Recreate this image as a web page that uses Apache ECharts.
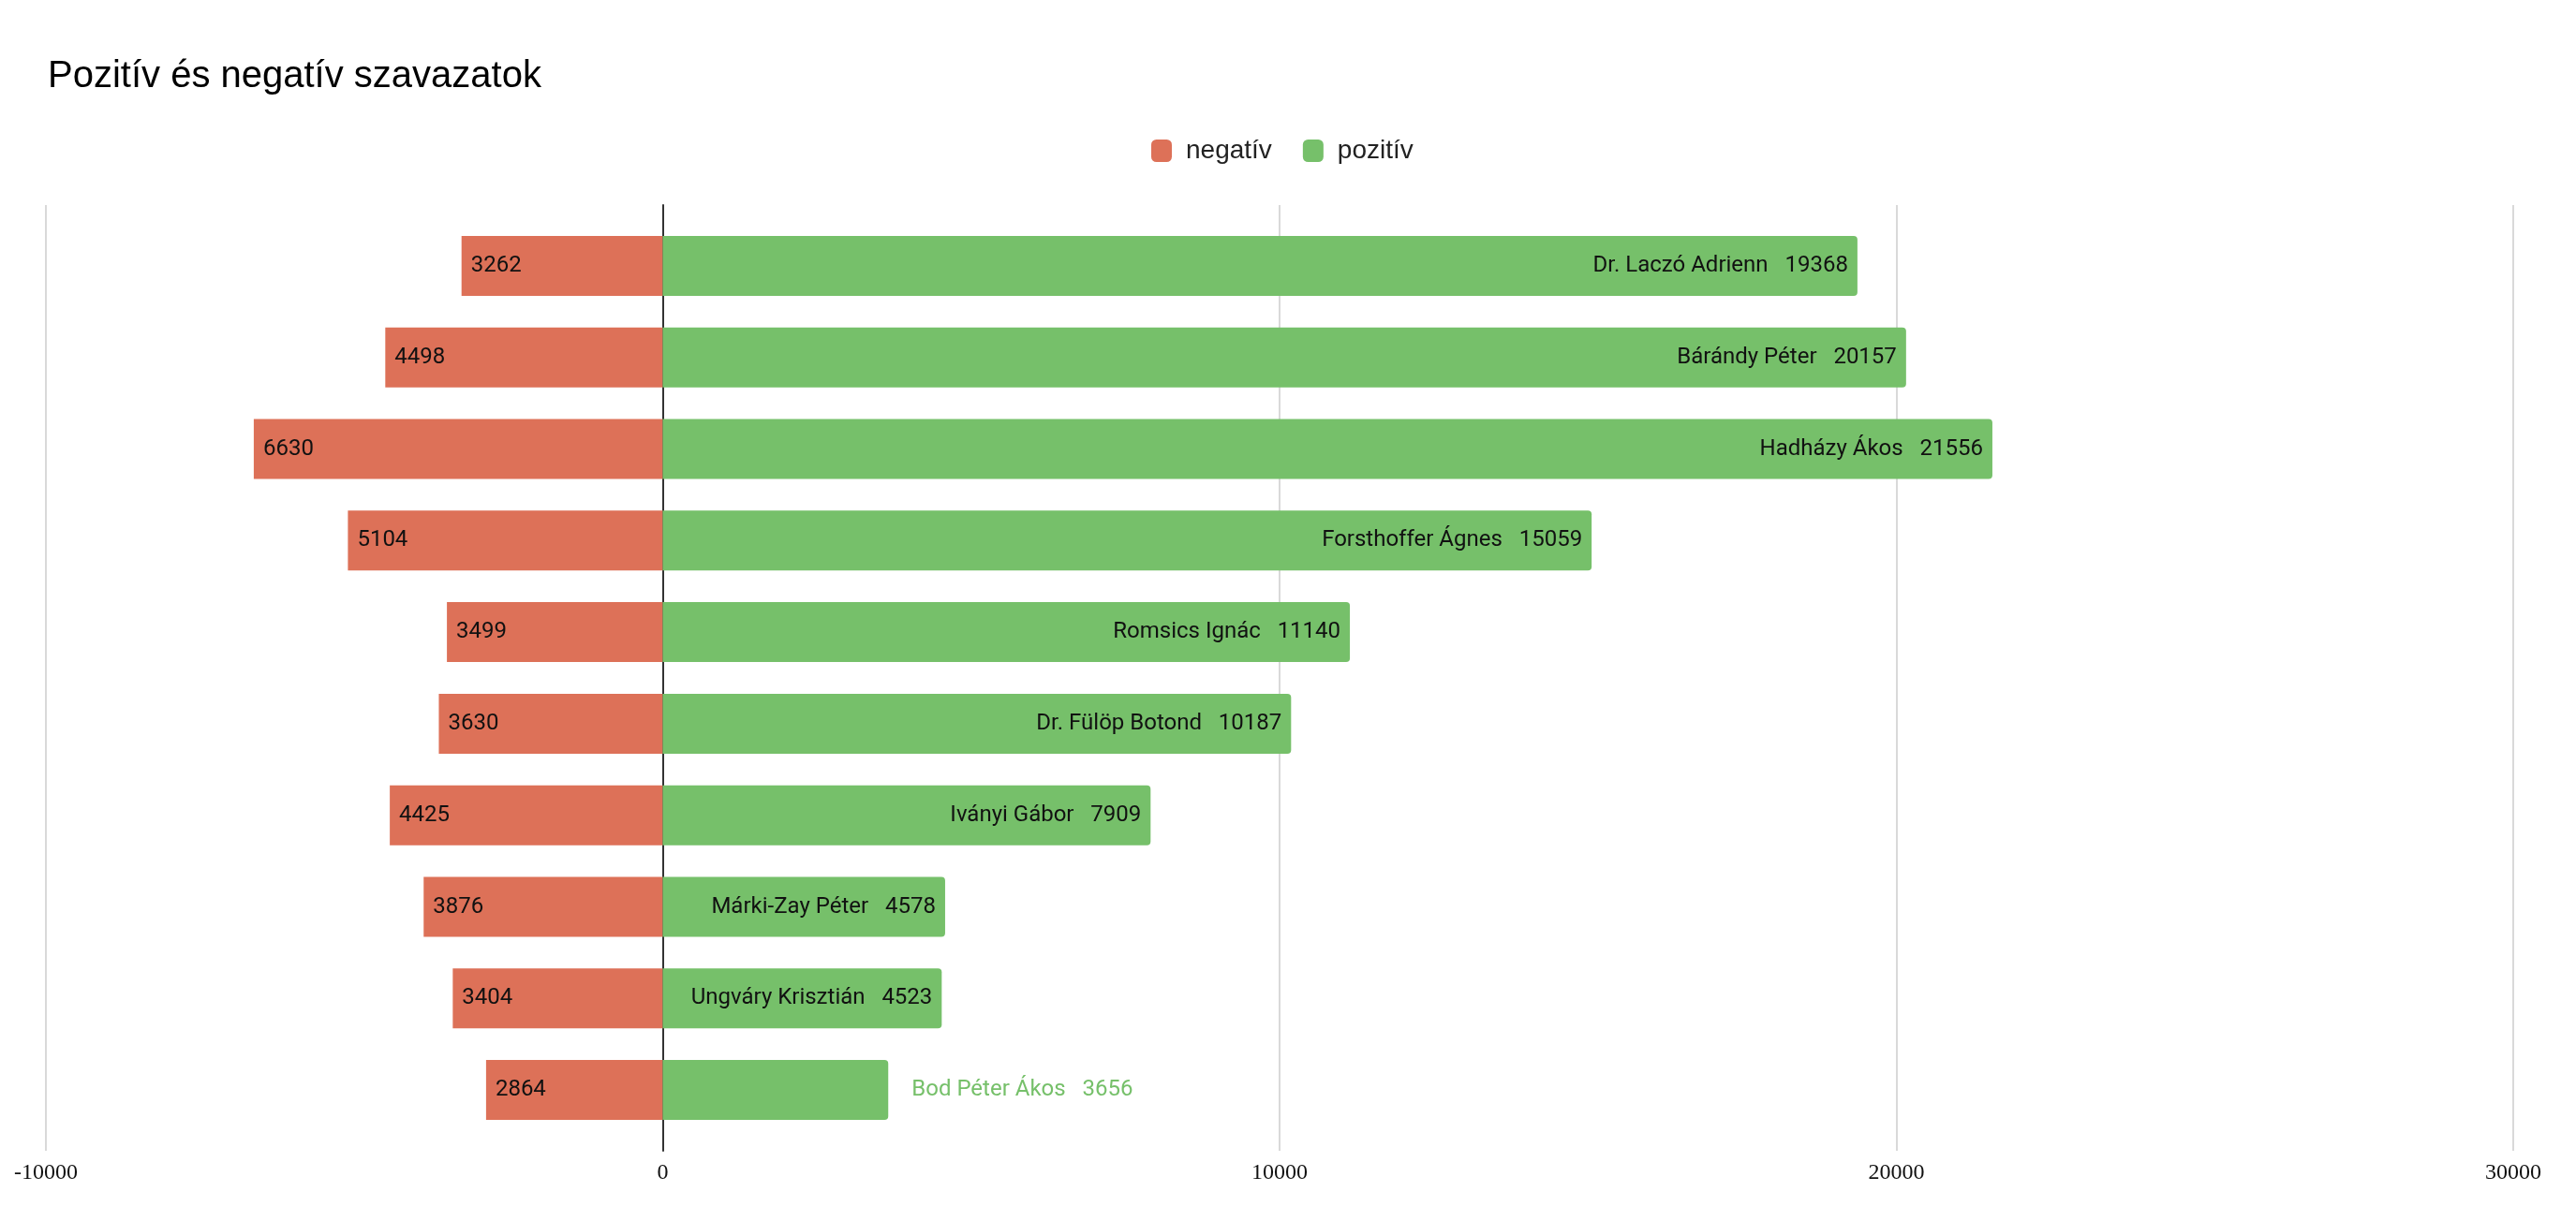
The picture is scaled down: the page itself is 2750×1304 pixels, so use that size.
<!DOCTYPE html>
<html>
<head>
<meta charset="utf-8">
<script src="https://cdn.jsdelivr.net/npm/echarts@6/dist/echarts.min.js"></script>
<style>
  html, body { margin: 0; padding: 0; background: #fff; }
  #chart { width: 2750px; height: 1304px; }
</style>
</head>
<body>
<div id="chart"></div>
<script>
// candidates, top to bottom
const names = [
  'Dr. Laczó Adrienn', 'Bárándy Péter', 'Hadházy Ákos', 'Forsthoffer Ágnes',
  'Romsics Ignác', 'Dr. Fülöp Botond', 'Iványi Gábor', 'Márki-Zay Péter',
  'Ungváry Krisztián', 'Bod Péter Ákos'
];
const negativ = [3262, 4498, 6630, 5104, 3499, 3630, 4425, 3876, 3404, 2864];
const pozitiv = [19368, 20157, 21556, 15059, 11140, 10187, 7909, 4578, 4523, 3656];
const xTicks = [-10000, 0, 10000, 20000, 30000];

const RED = '#dd7158';
const GREEN = '#76c06a';

const chart = echarts.init(document.getElementById('chart'));

// the last bar is too short for its label, so it goes outside in green
const posData = pozitiv.map((v, i) => {
  const item = { value: v };
  if (i === pozitiv.length - 1) {
    item.label = { position: 'right', distance: 25, color: GREEN };
  }
  return item;
});

chart.setOption({
  animation: false,
  title: {
    text: 'Pozitív és negatív szavazatok',
    left: 46,
    top: 57,
    textStyle: { fontFamily: 'Liberation Sans, Arial', fontSize: 40, fontWeight: 'normal', color: '#000' }
  },
  legend: {
    data: ['negatív', 'pozitív'],
    left: 1224,
    top: 142,
    icon: 'roundRect',
    itemWidth: 22,
    itemHeight: 24,
    itemGap: 33,
    textStyle: { fontFamily: 'Liberation Sans, Arial', fontSize: 28, color: '#222', padding: [0, 0, 0, 10] }
  },
  grid: [
    // bars
    { left: 49, right: 67, top: 235, bottom: 91 },
    // gridlines + zero line + tick labels, a bit taller than the bars
    { left: 49, right: 67, top: 219, bottom: 75 }
  ],
  xAxis: [
    { gridIndex: 0, type: 'value', min: xTicks[0], max: xTicks[xTicks.length - 1], interval: 10000, show: false },
    {
      gridIndex: 1, type: 'value', min: xTicks[0], max: xTicks[xTicks.length - 1], interval: 10000,
      axisLine: { show: false },
      axisTick: { show: false },
      splitLine: { lineStyle: { color: '#cccccc', width: 1.5 } },
      axisLabel: {
        fontFamily: 'Liberation Serif, Times New Roman', fontSize: 24, color: '#111', margin: 12,
        formatter: v => String(v)
      }
    }
  ],
  yAxis: [
    { gridIndex: 0, type: 'category', data: names, inverse: true, show: false },
    {
      gridIndex: 1, type: 'value', min: 0, max: 1,
      axisLine: { show: true, onZero: true, lineStyle: { color: '#333', width: 2 } },
      axisTick: { show: false },
      axisLabel: { show: false },
      splitLine: { show: false }
    }
  ],
  series: [
    {
      name: 'negatív',
      type: 'bar',
      xAxisIndex: 0,
      yAxisIndex: 0,
      stack: 'sz',
      barWidth: 64,
      data: negativ.map(v => -v),
      itemStyle: { color: RED },
      label: {
        show: true,
        position: 'insideLeft',
        distance: 10,
        fontFamily: 'Roboto',
        fontSize: 24,
        color: '#111',
        formatter: p => Math.abs(p.value)
      }
    },
    {
      name: 'pozitív',
      type: 'bar',
      xAxisIndex: 0,
      yAxisIndex: 0,
      stack: 'sz',
      barWidth: 64,
      data: posData,
      itemStyle: { color: GREEN, borderRadius: [0, 4, 4, 0] },
      label: {
        show: true,
        position: 'insideRight',
        distance: 10,
        fontFamily: 'Roboto',
        fontSize: 24,
        color: '#111',
        formatter: p => p.name + '   ' + p.value
      }
    }
  ]
});
</script>
</body>
</html>
